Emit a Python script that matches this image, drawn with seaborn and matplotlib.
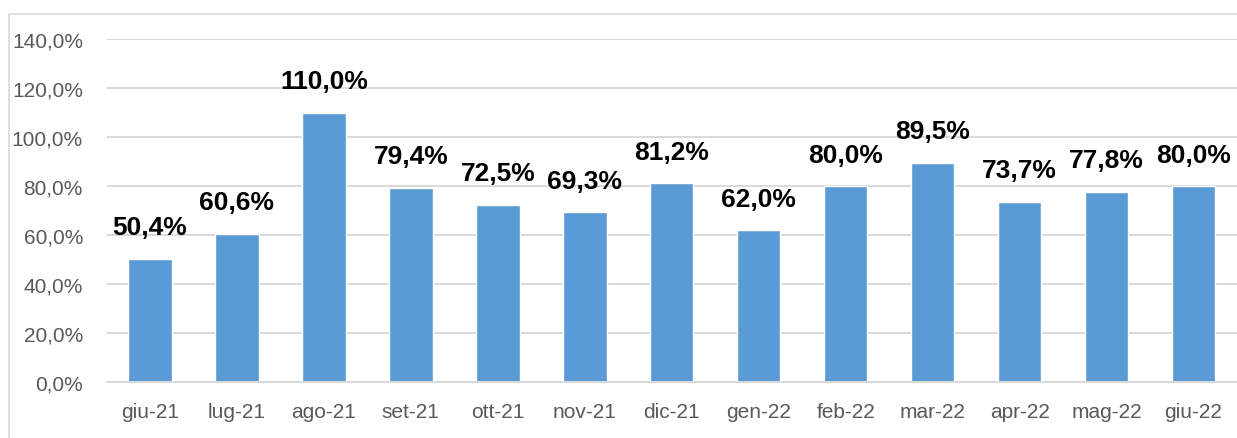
import matplotlib
matplotlib.use("Agg")
import matplotlib.pyplot as plt
from matplotlib.lines import Line2D
import pandas as pd
import seaborn as sns

months = ["giu-21", "lug-21", "ago-21", "set-21", "ott-21", "nov-21", "dic-21",
          "gen-22", "feb-22", "mar-22", "apr-22", "mag-22", "giu-22"]
values = [50.4, 60.6, 110.0, 79.4, 72.5, 69.3, 81.2, 62.0, 80.0, 89.5, 73.7, 77.8, 80.0]
yticks = [0, 20, 40, 60, 80, 100, 120, 140]

df = pd.DataFrame({"Mese": months, "Valore": values})

sns.set_style("white")
plt.rcParams["font.family"] = ["Liberation Sans", "DejaVu Sans"]

fig = plt.figure(figsize=(12.37, 4.39), dpi=100)
ax = fig.add_axes([0.0861, 0.1269, 0.9139, 0.782])

sns.barplot(data=df, x="Mese", y="Valore", color="#5B9BD5", saturation=1,
            width=0.5, ax=ax)

ax.set_ylim(0, 140)
ax.set_xlim(-0.5, len(months) - 0.5)
ax.set_yticks(yticks)
ax.set_yticklabels([f"{v:.1f}%".replace(".", ",") for v in yticks])
ax.yaxis.grid(True, color="#D9D9D9", linewidth=1.4)
ax.set_axisbelow(True)
ax.set_xlabel("")
ax.set_ylabel("")
for s in ["top", "right", "left"]:
    ax.spines[s].set_visible(False)
ax.spines["bottom"].set_color("#D9D9D9")
ax.spines["bottom"].set_linewidth(1.4)
ax.tick_params(axis="both", length=0, labelsize=15, labelcolor="#595959")
ax.tick_params(axis="y", pad=17)
ax.tick_params(axis="x", pad=14)

labels = [f"{v:.1f}%".replace(".", ",") for v in values]
ax.bar_label(ax.containers[0], labels=labels, padding=14, fontsize=19,
             fontweight="bold", color="black")

# chart frame (partially cropped in the original)
fig.add_artist(Line2D([8.5 / 1237, 8.5 / 1237], [0, 1 - 15 / 439],
                      transform=fig.transFigure, color="#D9D9D9", linewidth=1.2))
fig.add_artist(Line2D([8.5 / 1237, 1], [1 - 15 / 439, 1 - 15 / 439],
                      transform=fig.transFigure, color="#D9D9D9", linewidth=1.2))

fig.savefig("out.png", dpi=100)
